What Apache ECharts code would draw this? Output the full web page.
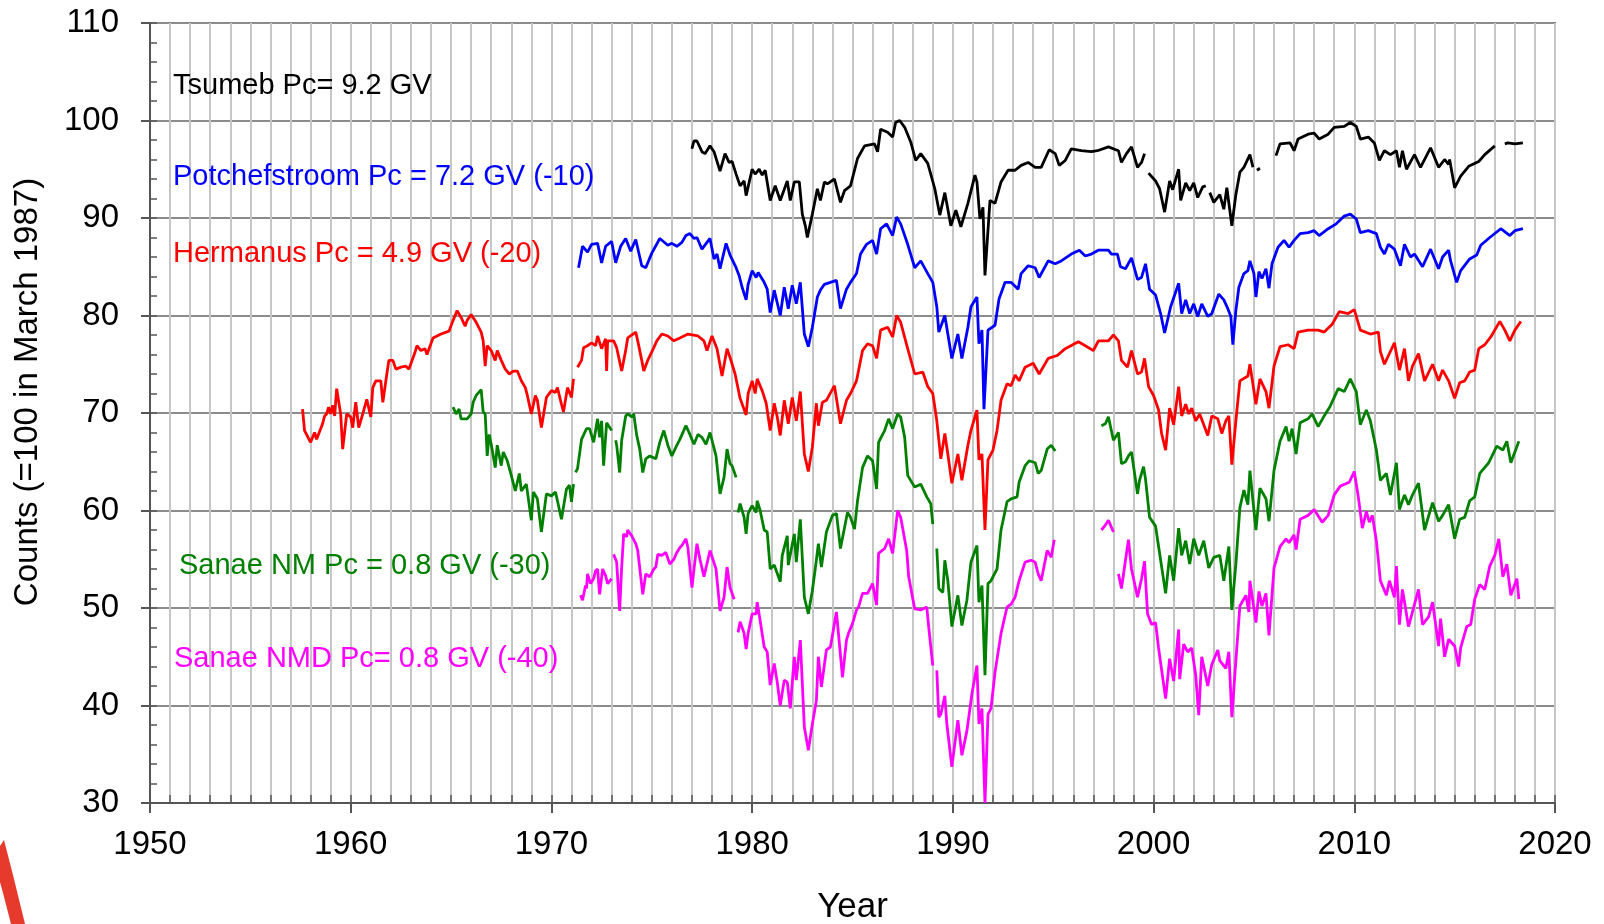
<!DOCTYPE html>
<html>
<head>
<meta charset="utf-8">
<script src="https://cdn.jsdelivr.net/npm/echarts@6/dist/echarts.min.js"></script>
<style>html,body{margin:0;padding:0;background:#fff}#c{width:1604px;height:924px}</style>
</head>
<body>
<div id="c"></div>
<script>
// ---- data: [year, counts] (null = gap in record) ----
var tsumeb = [[1977.0,97.1],[1977.1,97.9],[1977.25,97.9],[1977.5,96.8],[1977.65,96.6],[1977.9,97.4],[1978.1,96.8],[1978.4,94.8],[1978.65,96.6],[1978.85,95.7],[1979.0,95.8],[1979.2,94.5],[1979.4,93.3],[1979.6,93.8],[1979.7,92.3],[1980.0,95.0],[1980.15,94.5],[1980.35,95.0],[1980.5,94.4],[1980.65,94.9],[1980.9,91.8],[1981.15,93.3],[1981.4,91.8],[1981.75,93.8],[1981.9,91.8],[1982.1,93.7],[1982.35,93.7],[1982.5,90.4],[1982.65,89.2],[1982.75,88.0],[1983.0,90.4],[1983.25,93.0],[1983.4,91.8],[1983.6,93.7],[1983.75,93.5],[1984.1,94.0],[1984.4,91.6],[1984.6,92.8],[1984.9,93.3],[1985.25,96.1],[1985.6,97.4],[1986.1,97.6],[1986.25,96.8],[1986.4,99.1],[1986.75,98.8],[1987.0,98.3],[1987.15,99.8],[1987.35,100.0],[1987.6,99.3],[1987.9,97.8],[1988.15,95.9],[1988.4,96.6],[1988.75,95.6],[1989.1,93.0],[1989.35,90.3],[1989.6,92.6],[1989.9,89.2],[1990.15,90.8],[1990.4,89.1],[1990.75,91.5],[1991.1,94.4],[1991.2,93.7],[1991.35,89.9],[1991.5,91.1],[1991.6,84.1],[1991.85,91.8],[1992.1,91.5],[1992.4,93.7],[1992.75,94.9],[1993.1,94.9],[1993.4,95.4],[1993.75,95.7],[1994.1,95.2],[1994.4,95.2],[1994.8,97.0],[1995.1,96.6],[1995.3,95.4],[1995.6,95.9],[1995.9,97.1],[1996.4,96.9],[1996.9,96.8],[1997.2,96.9],[1997.75,97.3],[1998.25,96.9],[1998.4,95.7],[1998.65,96.6],[1998.9,97.3],[1999.2,95.2],[1999.4,95.7],[1999.55,96.6],[1999.65,null],[1999.75,94.6],[2000.1,93.8],[2000.3,93.0],[2000.55,90.6],[2000.8,93.8],[2000.95,92.9],[2001.25,95.0],[2001.35,91.8],[2001.6,93.6],[2001.8,92.8],[2002.0,93.6],[2002.2,92.1],[2002.45,93.2],[2002.6,93.3],[2002.7,null],[2002.8,92.6],[2003.0,91.6],[2003.3,92.4],[2003.5,90.9],[2003.65,93.1],[2003.9,89.2],[2004.1,92.4],[2004.3,94.7],[2004.5,95.2],[2004.8,96.5],[2004.95,95.2],[2005.05,null],[2005.15,94.9],[2005.3,95.1],[2005.5,null],[2006.1,96.4],[2006.3,97.6],[2006.8,97.7],[2007.0,96.9],[2007.2,98.1],[2007.7,98.6],[2008.0,98.7],[2008.25,98.1],[2008.7,98.6],[2009.0,99.3],[2009.5,99.4],[2009.8,99.8],[2010.1,99.4],[2010.3,98.1],[2010.7,98.3],[2011.0,97.7],[2011.25,95.9],[2011.5,96.9],[2011.8,96.5],[2012.1,96.9],[2012.25,95.2],[2012.4,96.9],[2012.6,95.0],[2013.0,96.5],[2013.3,95.2],[2013.8,97.2],[2014.2,95.2],[2014.5,96.0],[2014.7,95.5],[2014.75,96.0],[2015.0,93.1],[2015.3,94.3],[2015.7,95.3],[2016.2,95.8],[2016.5,96.5],[2017.0,97.4],[2017.2,null],[2017.5,97.6],[2017.65,97.7],[2018.0,97.6],[2018.4,97.7]];

var potchefstroom = [[1971.35,84.9],[1971.55,87.1],[1971.8,86.5],[1972.0,87.3],[1972.3,87.4],[1972.5,85.4],[1972.7,87.1],[1973.0,87.6],[1973.2,85.4],[1973.45,87.1],[1973.7,87.9],[1973.95,86.6],[1974.2,87.8],[1974.5,85.1],[1974.7,84.9],[1975.0,86.4],[1975.4,87.9],[1975.8,87.2],[1976.0,87.4],[1976.25,87.1],[1976.5,87.5],[1976.7,88.2],[1976.9,88.4],[1977.1,87.9],[1977.25,88.0],[1977.5,86.8],[1977.75,87.5],[1977.9,87.9],[1978.1,85.8],[1978.25,86.3],[1978.4,84.8],[1978.7,87.4],[1978.9,86.2],[1979.2,84.9],[1979.35,84.1],[1979.5,82.9],[1979.7,81.6],[1979.8,83.2],[1980.0,84.6],[1980.2,83.9],[1980.3,84.4],[1980.6,83.4],[1980.75,82.7],[1980.9,80.3],[1981.1,82.6],[1981.4,80.0],[1981.6,82.9],[1981.8,80.7],[1982.0,83.1],[1982.2,81.2],[1982.4,83.4],[1982.6,78.1],[1982.8,76.8],[1983.0,78.8],[1983.25,81.9],[1983.4,82.6],[1983.6,83.2],[1983.9,83.4],[1984.2,83.6],[1984.4,80.7],[1984.7,82.7],[1984.9,83.4],[1985.2,84.3],[1985.4,86.3],[1985.7,87.3],[1986.0,87.7],[1986.2,86.3],[1986.4,88.9],[1986.7,89.4],[1987.0,88.2],[1987.2,90.1],[1987.4,89.4],[1987.75,87.3],[1988.1,84.9],[1988.4,85.6],[1988.75,84.3],[1989.0,83.4],[1989.2,80.9],[1989.3,78.3],[1989.6,80.0],[1989.75,78.1],[1989.95,75.6],[1990.25,78.1],[1990.45,75.6],[1990.75,78.8],[1990.9,80.9],[1991.2,81.9],[1991.3,77.1],[1991.45,78.5],[1991.55,70.4],[1991.75,78.5],[1992.1,79.0],[1992.3,81.7],[1992.6,83.4],[1992.9,83.4],[1993.25,82.7],[1993.4,84.3],[1993.75,85.1],[1994.1,84.9],[1994.3,83.9],[1994.75,85.6],[1995.1,85.3],[1995.4,85.6],[1995.9,86.3],[1996.3,86.7],[1996.6,86.1],[1996.9,86.3],[1997.25,86.7],[1997.75,86.7],[1997.9,86.3],[1998.2,86.3],[1998.35,85.0],[1998.6,84.8],[1998.9,85.9],[1999.2,83.7],[1999.4,83.9],[1999.6,85.3],[1999.8,82.7],[2000.1,82.1],[2000.35,80.2],[2000.55,78.2],[2000.85,80.9],[2001.25,83.3],[2001.4,80.2],[2001.6,81.6],[2001.8,80.2],[2002.0,81.2],[2002.2,79.9],[2002.4,81.2],[2002.7,79.9],[2002.9,80.2],[2003.25,82.2],[2003.5,81.6],[2003.7,80.7],[2003.85,79.9],[2003.95,77.0],[2004.1,80.5],[2004.25,82.9],[2004.5,84.3],[2004.7,84.6],[2004.8,85.6],[2005.0,84.3],[2005.1,81.9],[2005.25,84.5],[2005.4,83.8],[2005.6,84.8],[2005.75,82.8],[2005.9,85.3],[2006.2,87.0],[2006.5,87.7],[2006.75,87.0],[2007.0,87.7],[2007.3,88.4],[2007.7,88.5],[2008.0,88.7],[2008.25,88.2],[2008.7,88.9],[2009.1,89.4],[2009.5,90.2],[2009.8,90.4],[2010.1,89.9],[2010.3,88.5],[2010.7,88.7],[2011.1,88.4],[2011.3,87.0],[2011.5,86.3],[2011.7,87.3],[2012.0,86.8],[2012.3,85.1],[2012.5,87.3],[2012.8,86.0],[2013.0,86.3],[2013.4,85.0],[2013.8,86.8],[2014.2,84.8],[2014.4,86.0],[2014.7,86.7],[2014.8,85.6],[2015.1,83.4],[2015.3,84.6],[2015.75,85.8],[2016.1,86.2],[2016.3,87.2],[2016.75,88.0],[2017.3,88.9],[2017.75,88.2],[2018.0,88.7],[2018.4,88.9]];

var hermanus = [[1957.6,70.4],[1957.7,68.2],[1958.0,67.0],[1958.2,68.0],[1958.3,67.3],[1958.6,68.9],[1958.7,69.7],[1958.8,69.9],[1958.9,70.6],[1959.0,69.9],[1959.1,70.8],[1959.2,69.7],[1959.3,72.5],[1959.5,69.9],[1959.6,66.3],[1959.8,69.9],[1960.0,69.6],[1960.1,68.5],[1960.25,71.1],[1960.4,68.5],[1960.6,69.9],[1960.8,71.4],[1961.0,69.6],[1961.1,72.6],[1961.25,73.3],[1961.5,73.3],[1961.6,71.1],[1961.75,73.3],[1961.9,75.4],[1962.1,75.4],[1962.25,74.5],[1962.5,74.7],[1962.75,74.8],[1962.9,74.5],[1963.2,76.2],[1963.3,76.9],[1963.5,76.4],[1963.7,76.6],[1963.8,76.0],[1964.1,77.7],[1964.5,78.1],[1964.9,78.4],[1965.1,79.5],[1965.3,80.5],[1965.5,79.8],[1965.7,78.9],[1965.8,79.5],[1966.0,80.1],[1966.25,79.3],[1966.5,78.3],[1966.6,77.4],[1966.7,74.8],[1966.8,76.9],[1967.0,76.4],[1967.2,75.4],[1967.3,76.4],[1967.5,75.4],[1967.7,74.5],[1967.9,74.0],[1968.1,74.3],[1968.3,74.3],[1968.5,73.3],[1968.7,72.6],[1968.8,71.8],[1969.0,69.9],[1969.2,71.8],[1969.3,71.3],[1969.5,68.5],[1969.75,71.6],[1970.0,72.3],[1970.2,72.1],[1970.3,72.6],[1970.5,70.9],[1970.6,70.1],[1970.8,72.6],[1971.0,71.6],[1971.1,73.5],[1971.2,null],[1971.3,74.7],[1971.5,75.4],[1971.6,76.7],[1971.8,76.9],[1972.0,77.2],[1972.2,76.9],[1972.3,77.9],[1972.5,76.6],[1972.7,77.6],[1972.75,74.3],[1972.8,77.4],[1973.1,77.4],[1973.25,76.7],[1973.5,74.3],[1973.7,76.4],[1973.8,77.7],[1974.2,78.3],[1974.3,77.4],[1974.5,75.4],[1974.6,74.3],[1974.8,75.4],[1975.1,76.7],[1975.25,77.4],[1975.5,78.1],[1975.8,77.9],[1976.1,77.4],[1976.4,77.7],[1976.8,78.1],[1977.3,77.9],[1977.6,77.4],[1977.75,76.4],[1978.0,77.9],[1978.25,76.6],[1978.5,73.8],[1978.75,76.6],[1978.9,75.7],[1979.15,74.0],[1979.4,71.5],[1979.7,69.8],[1979.8,72.0],[1980.0,73.3],[1980.15,72.0],[1980.25,73.5],[1980.5,72.3],[1980.7,71.0],[1980.9,68.2],[1981.1,71.0],[1981.25,69.6],[1981.4,67.7],[1981.6,71.3],[1981.8,68.9],[1982.0,71.6],[1982.2,69.2],[1982.4,72.2],[1982.6,65.8],[1982.8,64.0],[1983.0,66.5],[1983.2,71.0],[1983.3,68.7],[1983.5,71.1],[1983.7,71.3],[1984.1,72.8],[1984.4,68.9],[1984.7,71.3],[1984.9,72.0],[1985.2,73.3],[1985.5,76.4],[1985.75,77.1],[1986.0,76.9],[1986.2,75.6],[1986.4,78.5],[1986.75,78.8],[1987.0,77.8],[1987.2,80.0],[1987.4,79.3],[1987.75,76.6],[1988.1,74.0],[1988.5,74.2],[1988.75,72.7],[1989.0,72.0],[1989.2,69.2],[1989.4,65.3],[1989.6,67.9],[1989.75,65.8],[1989.95,62.8],[1990.25,65.8],[1990.45,63.1],[1990.75,66.7],[1990.9,68.2],[1991.2,70.3],[1991.3,65.2],[1991.45,65.8],[1991.6,58.0],[1991.75,65.2],[1992.0,66.2],[1992.2,68.2],[1992.4,71.3],[1992.7,73.0],[1992.9,72.8],[1993.1,73.9],[1993.3,73.3],[1993.6,74.7],[1994.0,75.1],[1994.3,74.0],[1994.75,75.6],[1995.2,75.9],[1995.6,76.6],[1996.25,77.3],[1996.6,76.9],[1997.0,76.4],[1997.25,77.4],[1997.75,77.4],[1998.0,78.0],[1998.25,77.4],[1998.4,75.4],[1998.7,74.7],[1998.9,76.4],[1999.2,74.0],[1999.4,74.2],[1999.55,75.6],[1999.75,72.7],[2000.0,71.8],[2000.25,70.3],[2000.4,67.9],[2000.6,66.2],[2000.8,70.5],[2001.0,68.8],[2001.25,72.7],[2001.4,69.7],[2001.6,70.9],[2001.75,69.9],[2001.9,70.5],[2002.1,69.2],[2002.3,69.9],[2002.7,67.7],[2002.9,69.7],[2003.2,69.4],[2003.4,67.9],[2003.6,69.2],[2003.75,69.7],[2003.9,64.7],[2004.1,69.2],[2004.3,73.3],[2004.7,73.8],[2004.8,75.0],[2005.1,70.9],[2005.3,73.5],[2005.6,72.2],[2005.75,70.5],[2006.0,74.8],[2006.3,76.8],[2006.7,77.0],[2007.0,76.6],[2007.2,78.3],[2007.7,78.5],[2008.2,78.5],[2008.5,78.3],[2008.9,79.1],[2009.25,80.4],[2009.7,80.2],[2010.0,80.6],[2010.3,78.5],[2010.8,78.1],[2011.2,78.3],[2011.3,76.3],[2011.5,75.0],[2011.75,76.1],[2012.0,77.2],[2012.25,74.4],[2012.5,76.6],[2012.7,73.3],[2012.9,74.8],[2013.2,76.1],[2013.5,73.3],[2013.9,75.0],[2014.2,73.3],[2014.4,74.4],[2014.7,73.3],[2015.0,71.5],[2015.25,73.1],[2015.5,73.3],[2015.75,74.2],[2016.0,74.4],[2016.2,76.6],[2016.5,77.0],[2016.8,77.8],[2017.25,79.4],[2017.5,78.5],[2017.75,77.4],[2018.0,78.5],[2018.3,79.4]];

var sanaeNM = [[1965.1,70.6],[1965.25,69.9],[1965.4,70.4],[1965.5,69.4],[1965.8,69.4],[1966.0,69.9],[1966.1,71.1],[1966.25,71.8],[1966.5,72.4],[1966.6,70.1],[1966.7,69.9],[1966.8,65.6],[1966.9,67.8],[1967.0,66.8],[1967.2,64.4],[1967.3,66.7],[1967.5,64.6],[1967.6,66.0],[1967.8,65.1],[1968.0,63.6],[1968.2,62.0],[1968.4,63.8],[1968.5,62.0],[1968.75,62.7],[1969.0,59.0],[1969.1,61.9],[1969.3,61.2],[1969.5,57.8],[1969.75,61.7],[1970.0,61.5],[1970.2,61.9],[1970.3,61.0],[1970.5,59.1],[1970.75,62.2],[1970.9,62.6],[1971.0,60.9],[1971.1,62.7],[1971.15,null],[1971.2,63.9],[1971.3,64.3],[1971.5,67.3],[1971.75,68.4],[1971.9,68.4],[1972.1,67.0],[1972.3,69.4],[1972.4,67.5],[1972.5,69.2],[1972.6,64.6],[1972.75,69.0],[1973.0,68.2],[1973.1,null],[1973.2,67.2],[1973.25,66.7],[1973.4,63.9],[1973.5,67.2],[1973.7,69.7],[1973.8,69.9],[1974.0,69.6],[1974.1,69.9],[1974.25,67.7],[1974.4,66.3],[1974.55,63.9],[1974.7,65.3],[1974.9,65.6],[1975.2,65.3],[1975.4,67.0],[1975.6,68.2],[1975.8,66.7],[1976.0,65.6],[1976.25,66.7],[1976.4,67.3],[1976.7,68.7],[1976.9,67.8],[1977.1,66.8],[1977.3,67.8],[1977.5,67.5],[1977.7,66.8],[1977.9,68.0],[1978.2,65.6],[1978.4,61.7],[1978.6,63.4],[1978.75,66.3],[1978.9,64.8],[1979.0,64.6],[1979.2,63.4],[1979.25,null],[1979.3,59.8],[1979.4,60.7],[1979.6,59.3],[1979.7,57.6],[1979.8,59.7],[1980.0,60.5],[1980.2,59.8],[1980.25,61.0],[1980.4,60.0],[1980.6,58.0],[1980.75,57.8],[1980.9,54.0],[1981.1,54.4],[1981.4,52.7],[1981.5,55.4],[1981.75,57.4],[1981.8,54.4],[1982.1,57.6],[1982.2,54.7],[1982.4,59.1],[1982.6,51.1],[1982.8,49.4],[1983.0,51.8],[1983.2,54.9],[1983.3,56.6],[1983.45,54.2],[1983.7,57.8],[1984.0,59.5],[1984.2,59.7],[1984.4,56.1],[1984.75,59.8],[1984.9,59.3],[1985.1,58.1],[1985.25,61.0],[1985.5,64.4],[1985.75,65.6],[1986.0,65.1],[1986.2,62.2],[1986.3,67.0],[1986.6,68.2],[1986.8,69.4],[1987.0,68.4],[1987.25,69.9],[1987.4,69.6],[1987.6,67.5],[1987.75,63.6],[1988.1,62.4],[1988.4,62.7],[1988.7,61.4],[1988.9,60.7],[1989.0,58.6],[1989.1,null],[1989.2,56.1],[1989.3,52.0],[1989.5,51.6],[1989.6,54.9],[1989.75,52.8],[1989.95,48.1],[1990.25,51.3],[1990.45,48.2],[1990.7,50.8],[1990.9,54.7],[1991.2,56.4],[1991.3,50.6],[1991.45,52.3],[1991.6,43.1],[1991.75,52.5],[1991.9,52.8],[1992.2,54.0],[1992.4,58.0],[1992.7,60.9],[1992.9,61.2],[1993.2,61.4],[1993.3,62.9],[1993.6,64.6],[1993.8,65.1],[1994.1,64.9],[1994.25,63.8],[1994.4,64.1],[1994.7,66.3],[1994.9,66.7],[1995.1,66.1],[1996.0,null],[1997.4,68.7],[1997.6,68.9],[1997.75,69.6],[1998.0,67.2],[1998.25,68.0],[1998.4,64.8],[1998.6,65.0],[1998.75,65.6],[1998.9,66.0],[1999.2,61.7],[1999.3,63.1],[1999.5,64.5],[1999.6,63.2],[1999.8,59.3],[2000.1,58.4],[2000.25,56.3],[2000.6,51.5],[2000.8,55.4],[2001.0,52.8],[2001.25,58.2],[2001.4,55.4],[2001.6,56.9],[2001.8,54.5],[2002.0,57.1],[2002.25,55.4],[2002.5,56.9],[2002.75,54.1],[2003.0,55.2],[2003.3,55.4],[2003.5,52.8],[2003.75,56.3],[2003.9,49.8],[2004.1,54.5],[2004.3,60.3],[2004.5,62.1],[2004.7,60.6],[2004.8,64.1],[2005.1,58.0],[2005.3,62.3],[2005.6,61.2],[2005.75,58.9],[2006.0,64.1],[2006.3,67.1],[2006.6,68.6],[2006.75,67.1],[2006.9,68.4],[2007.1,65.8],[2007.3,69.0],[2007.7,69.4],[2007.9,69.9],[2008.2,68.6],[2008.5,69.7],[2008.8,70.7],[2009.2,72.5],[2009.5,72.2],[2009.8,73.5],[2010.1,72.2],[2010.3,68.8],[2010.6,70.3],[2010.8,69.2],[2011.1,66.2],[2011.3,63.1],[2011.6,63.8],[2011.8,61.6],[2012.1,64.9],[2012.25,60.1],[2012.5,61.6],[2012.7,60.6],[2012.9,61.6],[2013.2,62.8],[2013.5,58.0],[2013.9,60.8],[2014.2,58.9],[2014.4,59.5],[2014.7,60.6],[2015.0,57.1],[2015.25,59.1],[2015.5,59.3],[2015.75,61.0],[2016.0,61.4],[2016.25,63.8],[2016.7,64.9],[2017.1,66.6],[2017.4,66.2],[2017.6,67.1],[2017.8,64.9],[2018.2,67.1]];

var sanaeNMD = [[1971.45,51.3],[1971.55,50.8],[1971.7,52.3],[1971.75,52.0],[1971.8,53.5],[1971.95,52.5],[1972.1,53.0],[1972.2,53.8],[1972.3,54.0],[1972.4,51.4],[1972.55,54.0],[1972.7,53.3],[1972.8,52.5],[1973.0,53.0],[1973.05,null],[1973.1,55.5],[1973.25,54.7],[1973.4,49.7],[1973.5,54.2],[1973.6,57.6],[1973.75,57.3],[1973.8,58.0],[1974.0,57.4],[1974.2,56.6],[1974.3,55.9],[1974.55,51.4],[1974.7,53.5],[1974.9,53.2],[1975.1,54.0],[1975.2,54.2],[1975.3,55.5],[1975.5,55.4],[1975.7,55.7],[1975.9,54.5],[1976.1,55.0],[1976.25,55.7],[1976.4,56.2],[1976.5,56.4],[1976.7,57.1],[1976.8,56.2],[1977.0,52.1],[1977.25,56.6],[1977.4,55.0],[1977.6,53.2],[1977.9,55.9],[1978.2,54.0],[1978.4,49.7],[1978.6,51.1],[1978.75,54.2],[1978.9,52.1],[1979.1,50.9],[1979.2,null],[1979.3,47.5],[1979.4,48.6],[1979.6,47.4],[1979.7,45.8],[1979.8,47.4],[1980.0,49.4],[1980.2,49.4],[1980.25,50.6],[1980.4,48.7],[1980.6,46.0],[1980.75,45.5],[1980.9,42.1],[1981.1,44.3],[1981.25,42.4],[1981.4,40.0],[1981.6,42.6],[1981.75,42.4],[1981.9,39.7],[1982.1,45.0],[1982.2,42.6],[1982.4,46.7],[1982.6,37.8],[1982.8,35.4],[1983.0,38.1],[1983.2,40.5],[1983.3,45.0],[1983.45,41.9],[1983.7,45.7],[1983.9,46.0],[1984.2,49.6],[1984.3,47.4],[1984.5,42.9],[1984.7,46.7],[1984.8,47.4],[1985.0,48.4],[1985.2,49.8],[1985.3,50.1],[1985.5,51.5],[1985.75,51.5],[1986.0,52.5],[1986.2,50.3],[1986.3,55.6],[1986.6,56.1],[1986.8,57.1],[1987.0,55.6],[1987.25,60.0],[1987.4,59.3],[1987.7,55.9],[1987.8,53.2],[1988.1,49.9],[1988.4,49.8],[1988.7,50.1],[1988.8,48.0],[1989.0,44.1],[1989.1,null],[1989.2,43.6],[1989.3,38.8],[1989.4,39.1],[1989.6,41.0],[1989.7,38.1],[1989.95,33.7],[1990.25,38.5],[1990.45,34.9],[1990.7,37.4],[1990.95,41.2],[1991.2,44.1],[1991.3,38.1],[1991.45,39.7],[1991.6,30.0],[1991.75,39.1],[1991.9,39.7],[1992.1,43.4],[1992.4,47.4],[1992.7,50.1],[1992.9,50.4],[1993.1,51.1],[1993.3,52.8],[1993.6,54.7],[1993.9,54.9],[1994.1,54.7],[1994.25,53.5],[1994.4,52.8],[1994.7,55.9],[1994.9,55.2],[1995.05,57.0],[1996.0,null],[1997.4,58.0],[1997.6,58.5],[1997.75,59.0],[1998.0,57.8],[1998.1,null],[1998.25,53.5],[1998.4,52.0],[1998.6,54.9],[1998.75,57.0],[1998.9,54.0],[1999.2,51.1],[1999.4,53.0],[1999.55,54.8],[1999.7,49.4],[1999.9,48.3],[2000.1,48.5],[2000.25,45.9],[2000.6,40.7],[2000.8,44.8],[2001.0,42.5],[2001.25,47.8],[2001.3,42.7],[2001.5,46.3],[2001.7,45.5],[2001.9,45.9],[2002.1,43.1],[2002.25,39.0],[2002.4,45.0],[2002.7,42.0],[2002.9,44.2],[2003.2,45.7],[2003.3,44.6],[2003.6,43.8],[2003.75,45.5],[2003.9,38.8],[2004.1,44.6],[2004.3,50.2],[2004.6,51.3],[2004.75,49.6],[2004.8,52.8],[2005.1,48.5],[2005.25,51.7],[2005.4,50.2],[2005.6,51.5],[2005.75,47.2],[2006.0,54.1],[2006.3,56.3],[2006.6,57.1],[2006.75,56.7],[2007.0,57.5],[2007.1,56.0],[2007.3,59.1],[2007.7,59.5],[2008.0,60.1],[2008.4,58.8],[2008.7,59.5],[2009.0,61.6],[2009.3,62.5],[2009.75,62.9],[2010.0,64.0],[2010.2,61.4],[2010.4,58.2],[2010.6,59.9],[2010.75,58.8],[2010.9,59.5],[2011.1,56.9],[2011.3,52.8],[2011.6,51.3],[2011.75,52.8],[2012.0,51.1],[2012.1,54.3],[2012.25,48.3],[2012.4,51.9],[2012.7,48.1],[2012.9,49.6],[2013.2,51.9],[2013.4,48.3],[2013.7,49.1],[2013.9,50.6],[2014.2,46.1],[2014.3,48.9],[2014.5,45.0],[2014.7,46.8],[2015.0,46.1],[2015.2,44.0],[2015.3,45.9],[2015.6,48.1],[2015.8,48.3],[2016.0,50.9],[2016.25,52.4],[2016.5,51.9],[2016.75,54.3],[2017.0,55.4],[2017.2,57.1],[2017.4,53.2],[2017.6,54.5],[2017.8,51.3],[2018.1,53.0],[2018.2,50.9]];

var seriesNames = ['Tsumeb', 'Potchefstroom', 'Hermanus', 'Sanae NM', 'Sanae NMD'];
var seriesColors = ['#000000', '#0000ff', '#ff0000', '#008000', '#ff00ff'];
var seriesData = [tsumeb, potchefstroom, hermanus, sanaeNM, sanaeNMD];
var stationLabels = ['Tsumeb Pc= 9.2 GV', 'Potchefstroom Pc = 7.2 GV (-10)', 'Hermanus Pc = 4.9 GV (-20)', 'Sanae NM Pc = 0.8 GV (-30)', 'Sanae NMD Pc= 0.8 GV (-40)'];
var xTickMin = 1950, xTickMax = 2020, yTickMin = 30, yTickMax = 110;
var xAxisTitle = 'Year';
var yAxisTitle = 'Counts (=100 in March 1987)';

// ---- chart ----
var FONT = '"Liberation Sans", Arial, sans-serif';
var chart = echarts.init(document.getElementById('c'), null, {renderer: 'canvas'});
var labelPos = [[173, 86], [173, 177], [173, 254], [179, 566], [174, 659]];

var series = seriesData.map(function (d, i) {
  return {
    name: seriesNames[i],
    type: 'line',
    data: d.map(function (p) { return [p[0], p[1] == null ? '-' : p[1]]; }),
    showSymbol: false,
    symbol: 'none',
    connectNulls: false,
    lineStyle: {color: seriesColors[i], width: 2.8},
    itemStyle: {color: seriesColors[i]},
    z: 3 + i
  };
});

var graphics = stationLabels.map(function (t, i) {
  return {
    type: 'text', x: labelPos[i][0], y: labelPos[i][1], z: 100,
    style: {text: t, fill: seriesColors[i], font: '29px ' + FONT, align: 'left', verticalAlign: 'middle'}
  };
});
graphics.push({
  type: 'text', x: 28, y: 392, rotation: Math.PI / 2, z: 100,
  style: {text: yAxisTitle, fill: '#000', font: '33px ' + FONT, align: 'center', verticalAlign: 'middle'}
});
graphics.push({
  type: 'polygon', z: 100,
  shape: {points: [[0, 846], [4, 840], [13, 875], [25, 924], [11, 924], [3, 893], [0, 882]]},
  style: {fill: '#e53a2c'}
});

function plainNumber(v) { return String(v); }

chart.setOption({
  animation: false,
  backgroundColor: '#fff',
  textStyle: {fontFamily: FONT},
  grid: {left: 150, right: 49, top: 23, bottom: 121, show: true, borderColor: '#6e6e6e', borderWidth: 2, backgroundColor: 'transparent', containLabel: false, outerBoundsMode: 'none'},
  xAxis: [{
    type: 'value', min: xTickMin, max: xTickMax, interval: 10,
    name: xAxisTitle, nameLocation: 'middle', nameGap: 87,
    nameTextStyle: {fontSize: 35, color: '#000', fontFamily: FONT},
    axisLine: {show: true, onZero: false, lineStyle: {color: '#555', width: 2}},
    axisTick: {show: true, length: 10, lineStyle: {color: '#555', width: 2}},
    axisLabel: {fontSize: 33, color: '#000', margin: 25, fontFamily: FONT, formatter: plainNumber},
    splitLine: {show: true, lineStyle: {color: '#c6c6c6', width: 2}},
    minorTick: {show: false, splitNumber: 10},
    minorSplitLine: {show: true, lineStyle: {color: '#c6c6c6', width: 2}}
  }, {
    type: 'value', min: xTickMin, max: xTickMax, interval: 1, position: 'bottom',
    axisLine: {show: false, onZero: false},
    axisTick: {show: true, inside: true, length: 8, lineStyle: {color: '#555', width: 1.5}},
    axisLabel: {show: false},
    splitLine: {show: false}
  }],
  yAxis: [{
    type: 'value', min: yTickMin, max: yTickMax, interval: 10,
    axisLine: {show: true, onZero: false, lineStyle: {color: '#555', width: 2}},
    axisTick: {show: true, length: 9, lineStyle: {color: '#555', width: 2}},
    axisLabel: {fontSize: 33, color: '#000', margin: 31, fontFamily: FONT, formatter: plainNumber},
    splitLine: {show: true, lineStyle: {color: '#8c8c8c', width: 2}}
  }, {
    type: 'value', min: yTickMin, max: yTickMax, interval: 2, position: 'left',
    axisLine: {show: false, onZero: false},
    axisTick: {show: true, inside: true, length: 7, lineStyle: {color: '#555', width: 1.5}},
    axisLabel: {show: false},
    splitLine: {show: false}
  }],
  graphic: graphics,
  series: series
});
</script>
</body>
</html>
